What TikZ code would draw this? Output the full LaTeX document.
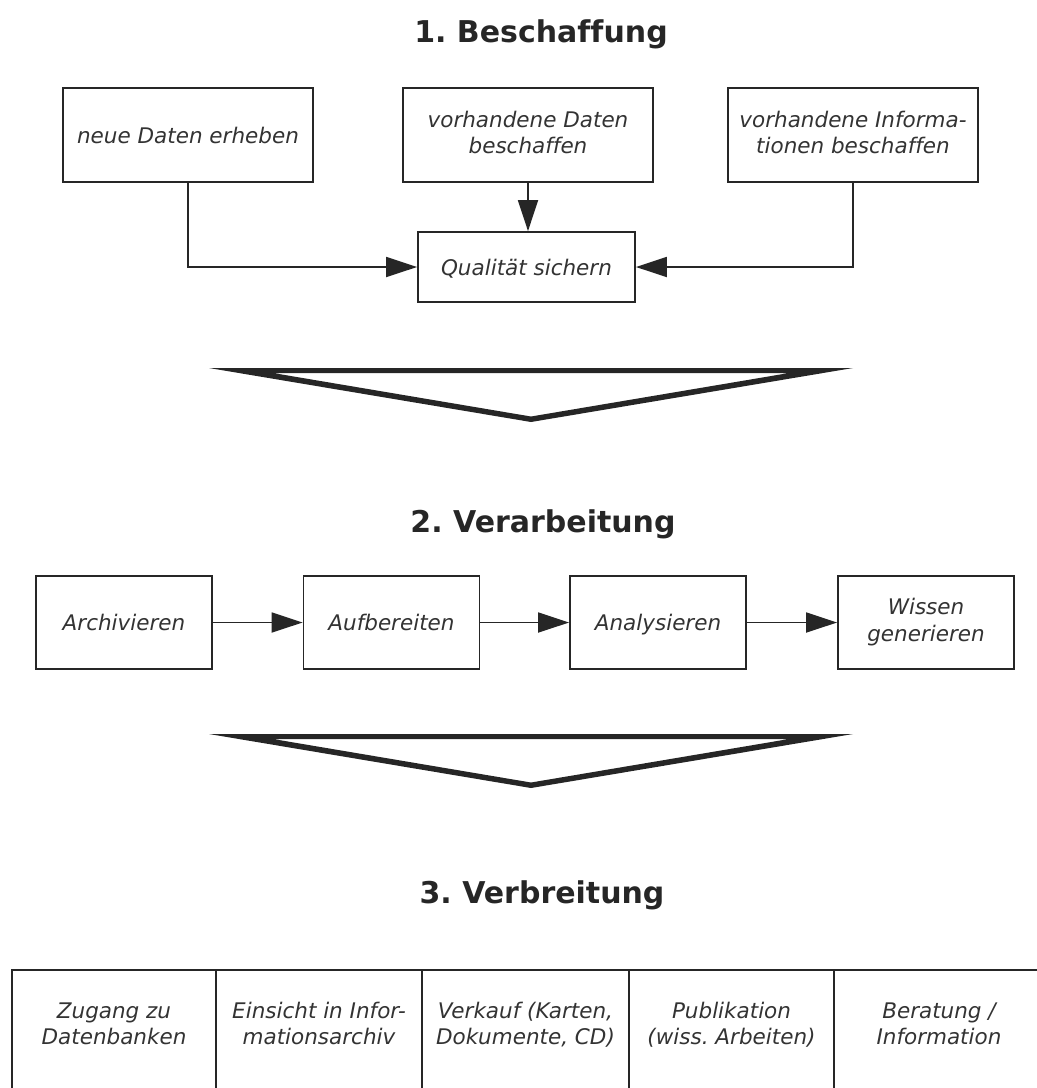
\documentclass[tikz,border=0pt]{standalone}
\usepackage{fontspec}
\setmainfont{DejaVu Sans}[Ligatures=NoCommon]
\usepackage{xcolor}
\usetikzlibrary{arrows.meta}
\definecolor{ink}{HTML}{262626}
\definecolor{textgray}{HTML}{333333}
\frenchspacing
\newcommand{\topstrut}{\rule{0pt}{22pt}}
\newcommand{\botstrut}{\rule[-5.2pt]{0pt}{5.2pt}}
\tikzset{
  stepbox/.style={draw=ink, line width=1.8pt, inner sep=0pt, align=center, text=textgray,
    font=\itshape\fontsize{21.5}{26.5}\selectfont,
    execute at begin node=\topstrut, execute at end node=\botstrut},
  topbox/.style={stepbox, minimum width=250pt, minimum height=94pt},
  rowbox/.style={stepbox, minimum width=176pt, minimum height=93pt},
  cell/.style={align=center, inner sep=0pt, text=textgray,
    font=\itshape\fontsize{21.5}{26.5}\selectfont,
    execute at begin node=\topstrut, execute at end node=\botstrut},
  heading/.style={anchor=base, text=ink, font=\bfseries\fontsize{30}{36}\selectfont},
  conn/.style={draw=ink, line width=1.8pt, -{Triangle[length=31pt,width=20pt]}},
  tabline/.style={draw=ink, line width=1.6pt},
  funnel/.style={fill=ink, even odd rule},
}
\begin{document}
\begin{tikzpicture}[x=1pt,y=-1pt]
  \clip (0,0) rectangle (1037,1088);

  \node[heading] (t1) at (541,42) {1. Beschaffung};
  \node[topbox] (neu) at (188,135) {neue Daten erheben};
  \node[topbox] (dat) at (528,135) {vorhandene Daten\\beschaffen};
  \node[topbox] (inf) at (853,135) {vorhandene Informa-\\tionen beschaffen};
  \node[stepbox, minimum width=217pt, minimum height=70pt] (qual) at (526.5,267) {Qualität sichern};
  \draw[conn] (neu.south) |- (qual.west);
  \draw[conn] (dat.south) -- (dat.south |- qual.north);
  \draw[conn] (inf.south) |- (qual.east);

  \fill[funnel] (209,368) -- (853,368) -- (531,422) -- cycle
                (273,373) -- (789,373) -- (531,416.5) -- cycle;

  \node[heading] (t2) at (543,532) {2. Verarbeitung};
  \node[rowbox] (arch) at (124,622.5) {Archivieren};
  \node[rowbox] (aufb) at (391.5,622.5) {Aufbereiten};
  \node[rowbox] (anal) at (658,622.5) {Analysieren};
  \node[rowbox] (wiss) at (926,622.5) {Wissen\\generieren};
  \draw[conn] (arch.east) -- (aufb.west);
  \draw[conn] (aufb.east) -- (anal.west);
  \draw[conn] (anal.east) -- (wiss.west);

  \fill[funnel] (209,734) -- (853,734) -- (531,788) -- cycle
                (273,739) -- (789,739) -- (531,782.5) -- cycle;

  \node[heading] (t3) at (542,903) {3. Verbreitung};
  \draw[tabline] (12,1100) |- (1050,970);
  \foreach \x in {216,422,629,834}
    \draw[tabline] (\x,970) -- (\x,1100);
  \node[cell] (zug) at (114,1026) {Zugang zu\\Datenbanken};
  \node[cell] (ein) at (319,1026) {Einsicht in Infor-\\mationsarchiv};
  \node[cell] (ver) at (525.5,1026) {Verkauf (Karten,\\Dokumente, CD)};
  \node[cell] (pub) at (731.5,1026) {Publikation\\(wiss. Arbeiten)};
  \node[cell] (ber) at (939,1026) {Beratung /\\Information};
\end{tikzpicture}
\end{document}
